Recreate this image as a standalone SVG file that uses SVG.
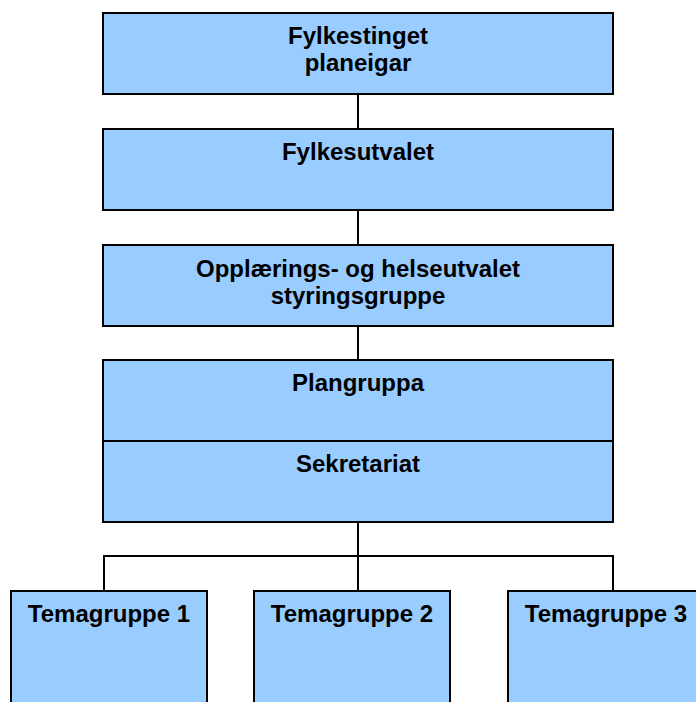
<svg xmlns="http://www.w3.org/2000/svg" width="696" height="702" viewBox="0 0 696 702">
<style>
.box{fill:#99ccff;stroke:#000;stroke-width:2}
.ln{fill:none;stroke:#000;stroke-width:2}
text{font-family:"Liberation Sans",Arial,sans-serif;font-weight:bold;font-size:24px;fill:#000;text-anchor:middle}
</style>
<rect width="696" height="702" fill="#fff"/>
<g id="connectors">
<line class="ln" x1="358" y1="94" x2="358" y2="129"/>
<line class="ln" x1="358" y1="210" x2="358" y2="245"/>
<line class="ln" x1="358" y1="326" x2="358" y2="360"/>
<line class="ln" x1="358" y1="522" x2="358" y2="591"/>
<polyline class="ln" points="104,591 104,556 613,556 613,591"/>
</g>
<g id="fylkestinget">
<rect class="box" x="103" y="13" width="510" height="81"/>
<text x="358" y="44">Fylkestinget</text>
<text x="358" y="71">planeigar</text>
</g>
<g id="fylkesutvalet">
<rect class="box" x="103" y="129" width="510" height="81"/>
<text x="358" y="160">Fylkesutvalet</text>
</g>
<g id="styringsgruppe">
<rect class="box" x="103" y="245" width="510" height="81"/>
<text x="358" y="277">Opplærings- og helseutvalet</text>
<text x="358" y="304">styringsgruppe</text>
</g>
<g id="plangruppa">
<rect class="box" x="103" y="360" width="510" height="81"/>
<text x="358" y="391">Plangruppa</text>
</g>
<g id="sekretariat">
<rect class="box" x="103" y="441" width="510" height="81"/>
<text x="358" y="472">Sekretariat</text>
</g>
<g id="temagruppe1">
<rect class="box" x="11" y="591" width="196" height="120"/>
<text x="109" y="622">Temagruppe 1</text>
</g>
<g id="temagruppe2">
<rect class="box" x="254" y="591" width="196" height="120"/>
<text x="352" y="622">Temagruppe 2</text>
</g>
<g id="temagruppe3">
<rect class="box" x="508" y="591" width="196" height="120"/>
<text x="606" y="622">Temagruppe 3</text>
</g>
</svg>
